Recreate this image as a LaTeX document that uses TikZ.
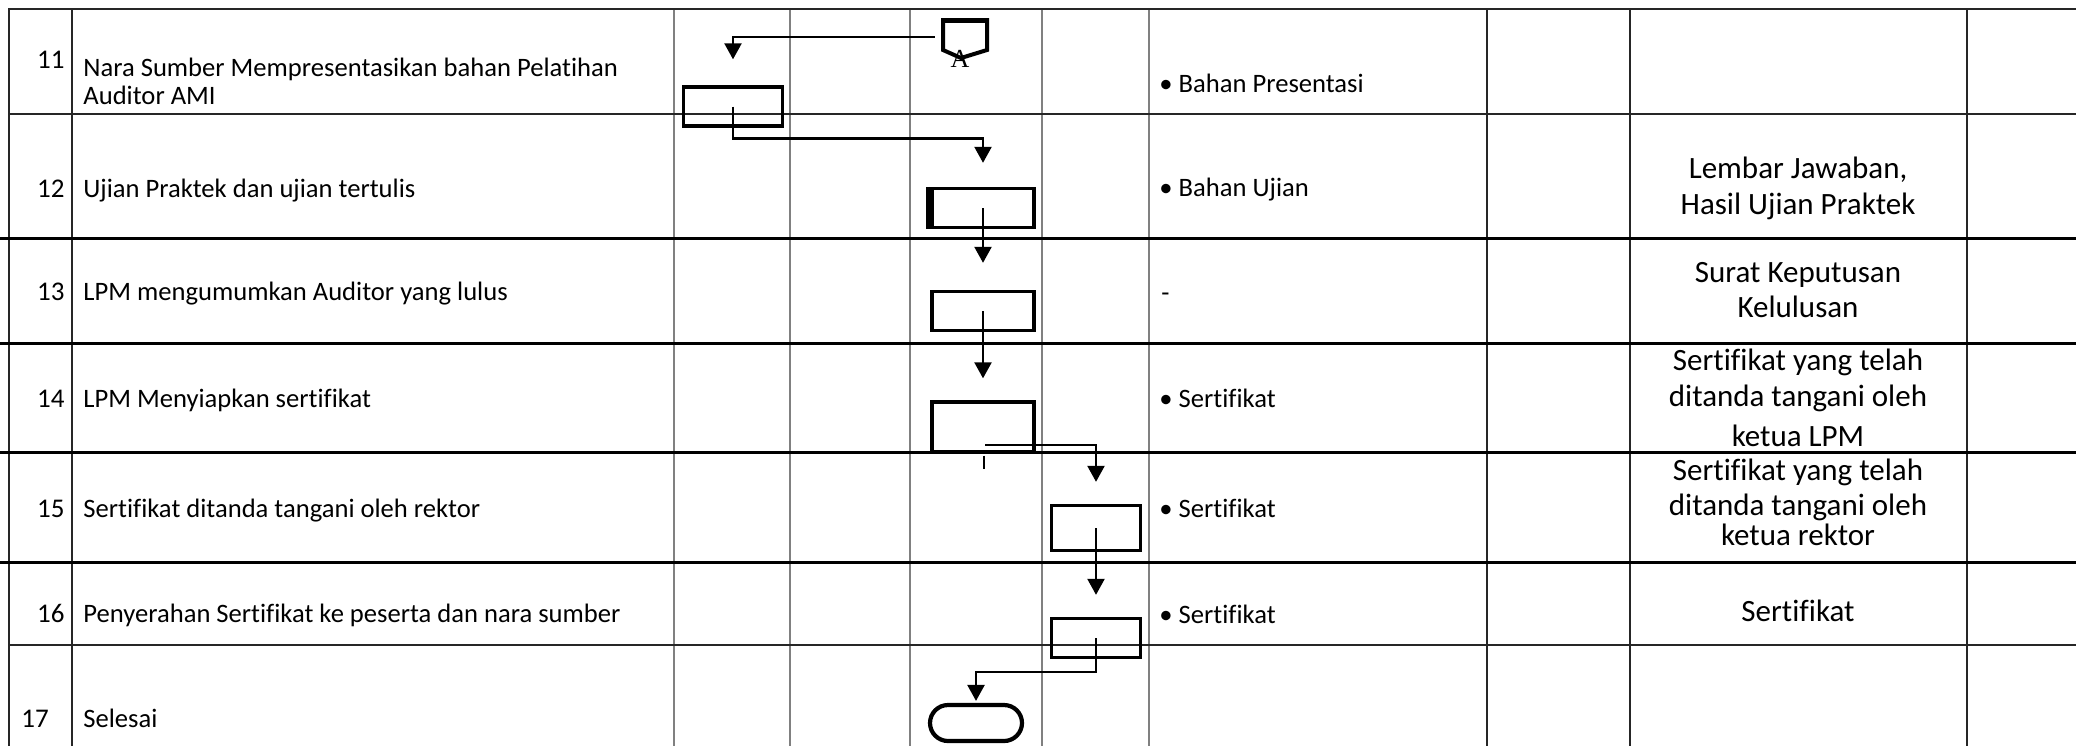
\documentclass[tikz,border=0pt]{standalone}
\usepackage{fontspec}
\setmainfont{Carlito}[Ligatures=NoCommon]
\newfontfamily\serifA{Liberation Serif}
\usetikzlibrary{arrows.meta,calc,shapes.misc}

\begin{document}
\begin{tikzpicture}[x=0.5pt,y=-0.5pt,
  grid/.style={line width=0.6pt,draw=black!85},
  gridgray/.style={line width=0.7pt,draw=black!50},
  rule/.style={line width=1.5pt,draw=black},
  proc/.style={draw,line width=1.7pt,inner sep=0pt},
  term/.style={draw,line width=2.1pt,rounded rectangle,minimum width=46pt,minimum height=18pt,inner sep=0pt},
  flow/.style={line width=1.15pt,-{Triangle[width=8.5pt,length=8pt]}},
  flowline/.style={line width=1.15pt},
  txt/.style={anchor=base west,inner sep=0pt,font=\fontsize{13.3pt}{16pt}\selectfont},
  num/.style={anchor=base east,inner sep=0pt,font=\fontsize{13.5pt}{16pt}\selectfont},
  outp/.style={anchor=base,inner sep=0pt,font=\fontsize{15.5pt}{18pt}\selectfont},
]
\useasboundingbox (0,0) rectangle (2076,746);

% table grid
\foreach \x in {9,72,1487,1630,1967} \draw[grid] (\x,8) -- (\x,746);
\foreach \x in {674,790,910,1042,1149} \draw[gridgray] (\x,8) -- (\x,746);
\foreach \y in {9,114,645} \draw[grid] (9,\y) -- (2076,\y);
\foreach \y in {238,343,452,562} \draw[rule] (0,\y) -- (2076,\y);

% step numbers and activities
\node[num] (n11) at (65,68) {11};
\node[txt] (t11a) at (83,76) {Nara Sumber Mempresentasikan bahan Pelatihan};
\node[txt] (t11b) at (83,104) {Auditor AMI};
\node[num] (n12) at (65,197) {12};
\node[txt] (t12) at (83,197) {Ujian Praktek dan ujian tertulis};
\node[num] (n13) at (65,300) {13};
\node[txt] (t13) at (83,300) {LPM mengumumkan Auditor yang lulus};
\node[num] (n14) at (65,407) {14};
\node[txt] (t14) at (83,407) {LPM Menyiapkan sertifikat};
\node[num] (n15) at (65,517) {15};
\node[txt] (t15) at (83,517) {Sertifikat ditanda tangani oleh rektor};
\node[num] (n16) at (65,622) {16};
\node[txt] (t16) at (83,622) {Penyerahan Sertifikat ke peserta dan nara sumber};
\node[txt,font=\fontsize{13.5pt}{16pt}\selectfont] (n17) at (21,727) {17};
\node[txt] (t17) at (83,727) {Selesai};

% required documents
\node[txt] (k11) at (1159,92) {• Bahan Presentasi};
\node[txt] (k12) at (1159,196) {• Bahan Ujian};
\node[txt] (k13) at (1161,301) {-};
\node[txt] (k14) at (1159,407) {• Sertifikat};
\node[txt] (k15) at (1159,517) {• Sertifikat};
\node[txt] (k16) at (1159,623) {• Sertifikat};

% outputs
\node[outp] (o12a) at (1798,178) {Lembar Jawaban,};
\node[outp] (o12b) at (1798,214) {Hasil Ujian Praktek};
\node[outp] (o13a) at (1798,282) {Surat Keputusan};
\node[outp] (o13b) at (1798,317) {Kelulusan};
\node[outp] (o14a) at (1798,370) {Sertifikat yang telah};
\node[outp] (o14b) at (1798,406) {ditanda tangani oleh};
\node[outp] (o14c) at (1798,446) {ketua LPM};
\node[outp] (o15a) at (1798,480) {Sertifikat yang telah};
\node[outp] (o15b) at (1798,515) {ditanda tangani oleh};
\node[outp] (o15c) at (1798,545) {ketua rektor};
\node[outp] (o16) at (1798,621) {Sertifikat};

% flowchart symbols
\node[inner sep=0pt,minimum width=22pt,minimum height=17pt] (conA) at (965,37) {};
\draw[line width=2pt,line join=miter]
  ($(conA)+(-22,-17)$) -- ($(conA)+(22,-17)$) -- ($(conA)+(22,13)$)
  -- ($(conA)+(-4,21)$) -- ($(conA)+(-22,13)$) -- cycle;
\draw[line width=1.2pt] ($(conA)+(-22,-15)$) -- ($(conA)+(22,-15)$);
\node[anchor=base,inner sep=0pt,font=\serifA\fontsize{13pt}{13pt}\selectfont] (labA) at (960,67) {A};

\node[proc,minimum width=49.5pt,minimum height=19.5pt] (b11) at (733,106.5) {};
\node[proc,minimum width=51pt,minimum height=19.5pt] (b12) at (983,208) {};
\draw[line width=2pt] ($(b12.north west)+(-2.5,0)$) -- ($(b12.south west)+(-2.5,0)$);
\node[proc,minimum width=51pt,minimum height=19.5pt] (b13) at (983,311) {};
\node[proc,minimum width=51pt,minimum height=25pt] (b14) at (983,427) {};
\node[proc,minimum width=44.5pt,minimum height=22.5pt] (b15) at (1096,528) {};
\node[proc,minimum width=44.5pt,minimum height=19.5pt] (b16) at (1096,638) {};
\node[term] (end) at (976,723) {};

% connectors
\draw[flow,shorten >=13pt] ($(conA.west)+(-8,0)$) -| (b11.north);
\draw[flow,shorten >=12pt] (b11.center) -- ($(b11.center)+(0,32)$) -| (b12.north);
\draw[flow,shorten >=13.5pt] (b12.center) -- (b13.north);
\draw[flow,shorten >=11pt] (b13.center) -- (b14.north);
\draw[flow,shorten >=11pt] ($(b14.center)+(2,18)$) -| (b15.north);
\coordinate (tick) at ($(b14.south)+(1,15)$);
\draw[flowline,line width=1.3pt] ($(b14.south)+(1,2)$) -- (tick);
\draw[flow,shorten >=11pt] (b15.center) -- (b16.north);
\draw[flow,shorten >=1pt] (b16.center) -- ($(b16.center)+(0,34)$) -| (end.north);
\end{tikzpicture}
\end{document}
